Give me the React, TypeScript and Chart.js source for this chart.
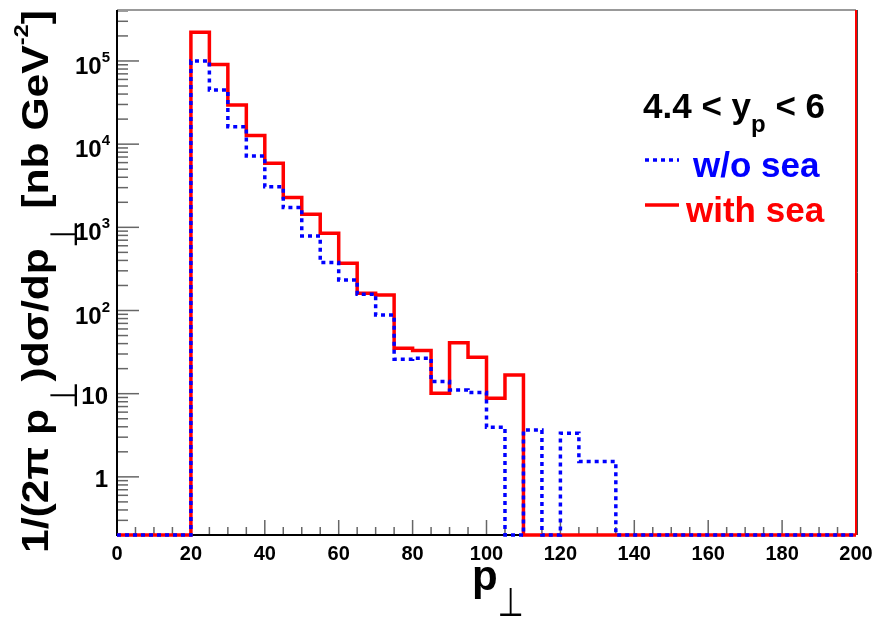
import React, { useEffect, useRef } from "react";
import { Chart, registerables } from "chart.js";

Chart.register(...registerables);

// ---- data ----
const binEdges = [
  0, 5, 10, 15, 20, 25, 30, 35, 40, 45, 50, 55, 60, 65, 70, 75, 80, 85, 90, 95,
  100, 105, 110, 115, 120, 125, 130, 135, 140, 145, 150, 155, 160, 165, 170, 175, 180, 185, 190, 195, 200,
];
// with sea (red, solid)
const withSea = [
  0, 0, 0, 0, 2.21e5, 9.1e4, 2.96e4, 1.27e4, 5.9e3, 2.28e3, 1.44e3, 849, 370, 161, 154, 35.2, 33, 10.1, 41, 27.5,
  8.8, 16.8, 0, 0, 0, 0, 0, 0, 0, 0, 0, 0, 0, 0, 0, 0, 0, 0, 0, 0,
];
// w/o sea (blue, dotted)
const withoutSea = [
  0, 0, 0, 0, 1.0e5, 4.48e4, 1.62e4, 7.2e3, 3.08e3, 1.73e3, 788, 377, 233, 157, 88.5, 26, 26.7, 14, 11.1, 10.3,
  3.95, 0, 3.67, 0, 3.35, 1.53, 1.53, 0, 0, 0, 0, 0, 0, 0, 0, 0, 0, 0, 0, 0,
];
const xTickLabels = [0, 20, 40, 60, 80, 100, 120, 140, 160, 180, 200];
const yTickLabels = [1, 10, 100, 1000, 10000, 100000];
const xMin = 0;
const xMax = 200;
const yMin = 0.2;
const yMax = 4.1e5;

const BOLD = "'Liberation Sans', Arial, Helvetica, sans-serif";
const SYM = "'DejaVu Sans', sans-serif";

type Seg = { t: string; font: string; dy?: number; sx?: number; color?: string };

function segsWidth(ctx: CanvasRenderingContext2D, segs: Seg[]) {
  let w = 0;
  for (const s of segs) {
    ctx.font = s.font;
    w += ctx.measureText(s.t).width * (s.sx ?? 1);
  }
  return w;
}

function drawSegs(ctx: CanvasRenderingContext2D, segs: Seg[], x: number, y: number, color: string) {
  let cx = x;
  for (const s of segs) {
    ctx.save();
    ctx.font = s.font;
    ctx.fillStyle = s.color ?? color;
    ctx.textAlign = "left";
    ctx.textBaseline = "alphabetic";
    const w = ctx.measureText(s.t).width * (s.sx ?? 1);
    ctx.translate(cx, y + (s.dy ?? 0));
    ctx.scale(s.sx ?? 1, 1);
    ctx.fillText(s.t, 0, 0);
    ctx.restore();
    cx += w;
  }
}

function toPoints(vals: number[]) {
  const pts = vals.map((v, i) => ({ x: binEdges[i], y: Math.max(v, yMin) }));
  pts.push({ x: binEdges[vals.length], y: Math.max(vals[vals.length - 1], yMin) });
  return pts;
}

const framePlugin = {
  id: "rootFrame",
  beforeDatasetsDraw(chart: any) {
    const ctx: CanvasRenderingContext2D = chart.ctx;
    const { left, right, top, bottom } = chart.chartArea;
    const xs = chart.scales.x;
    const ys = chart.scales.y;
    ctx.save();
    // ticks
    ctx.strokeStyle = "#666";
    ctx.lineWidth = 1.5;
    for (let v = xMin; v <= xMax; v += 5) {
      const px = xs.getPixelForValue(v);
      const len = v % 20 === 0 ? 15 : 8;
      ctx.beginPath();
      ctx.moveTo(px, bottom);
      ctx.lineTo(px, bottom - len);
      ctx.stroke();
    }
    for (let e = -1; e <= 6; e++) {
      for (let m = 1; m <= 9; m++) {
        const v = m * Math.pow(10, e);
        if (v < yMin || v > yMax) continue;
        const py = ys.getPixelForValue(v);
        const len = m === 1 ? 22 : 11;
        ctx.beginPath();
        ctx.moveTo(left, py);
        ctx.lineTo(left + len, py);
        ctx.stroke();
      }
    }
    // frame
    ctx.strokeStyle = "#999";
    ctx.lineWidth = 2;
    ctx.beginPath();
    ctx.moveTo(left, top);
    ctx.lineTo(right, top);
    ctx.stroke();
    ctx.strokeStyle = "#444";
    ctx.lineWidth = 1;
    ctx.beginPath();
    ctx.moveTo(right + 1.5, top);
    ctx.lineTo(right + 1.5, bottom);
    ctx.stroke();
    ctx.strokeStyle = "#ff0000";
    ctx.lineWidth = 2;
    ctx.beginPath();
    ctx.moveTo(right, top);
    ctx.lineTo(right, bottom);
    ctx.stroke();
    ctx.strokeStyle = "#000";
    ctx.lineWidth = 2;
    ctx.beginPath();
    ctx.moveTo(left, top);
    ctx.lineTo(left, bottom);
    ctx.lineTo(right, bottom);
    ctx.stroke();
    ctx.restore();
  },
  afterDraw(chart: any) {
    const ctx: CanvasRenderingContext2D = chart.ctx;
    const xs = chart.scales.x;
    const ys = chart.scales.y;
    ctx.save();
    // x tick labels
    ctx.fillStyle = "#000";
    ctx.font = `bold 20px ${BOLD}`;
    ctx.textAlign = "center";
    ctx.textBaseline = "alphabetic";
    for (const v of xTickLabels) {
      ctx.fillText(String(v), xs.getPixelForValue(v), 560);
    }
    // y tick labels
    for (const v of yTickLabels) {
      const py = ys.getPixelForValue(v);
      const e = Math.round(Math.log10(v));
      if (e <= 1) {
        ctx.font = `bold 24px ${BOLD}`;
        ctx.textAlign = "right";
        ctx.fillText(String(v), 108, py + 10);
      } else {
        const segs: Seg[] = [
          { t: "10", font: `bold 24px ${BOLD}` },
          { t: String(e), font: `bold 15px ${BOLD}`, dy: -12 },
        ];
        const w = segsWidth(ctx, segs);
        drawSegs(ctx, segs, 110 - w, py + 13, "#000");
      }
    }
    // y axis title (rotated)
    const ySegs: Seg[] = [
      { t: "1/(2π p", font: `bold 36px ${BOLD}` },
      { t: "⊥", font: `38px ${SYM}`, dy: 29, sx: 0.7 },
      { t: ")dσ/dp", font: `bold 36px ${BOLD}` },
      { t: "⊥", font: `38px ${SYM}`, dy: 29, sx: 0.7 },
      { t: " [nb GeV", font: `bold 36px ${BOLD}` },
      { t: "-2", font: `bold 20px ${BOLD}`, dy: -20 },
      { t: "]", font: `bold 36px ${BOLD}` },
    ];
    const yw = segsWidth(ctx, ySegs);
    const span = 543;
    ctx.save();
    ctx.translate(48, 553);
    ctx.rotate(-Math.PI / 2);
    ctx.scale(span / yw, 1);
    drawSegs(ctx, ySegs, 0, 0, "#000");
    ctx.restore();
    // x axis title
    drawSegs(
      ctx,
      [
        { t: "p", font: `bold 42px ${BOLD}` },
        { t: "⊥", font: `40px ${SYM}`, dy: 26, sx: 0.75 },
      ],
      472,
      590,
      "#000"
    );
    // legend / annotation
    drawSegs(
      ctx,
      [
        { t: "4.4 < y", font: `bold 35px ${BOLD}` },
        { t: "p", font: `bold 24px ${BOLD}`, dy: 14 },
        { t: " < 6", font: `bold 35px ${BOLD}` },
      ],
      643,
      118,
      "#000"
    );
    ctx.lineWidth = 3.5;
    ctx.lineCap = "butt";
    ctx.strokeStyle = "#0000ff";
    ctx.setLineDash([4, 4]);
    ctx.beginPath();
    ctx.moveTo(645, 160);
    ctx.lineTo(679, 160);
    ctx.stroke();
    ctx.setLineDash([]);
    ctx.strokeStyle = "#ff0000";
    ctx.beginPath();
    ctx.moveTo(645, 205);
    ctx.lineTo(679, 205);
    ctx.stroke();
    drawSegs(ctx, [{ t: "w/o sea", font: `bold 35px ${BOLD}` }], 693, 177, "#0000ff");
    drawSegs(ctx, [{ t: "with sea", font: `bold 35px ${BOLD}` }], 686, 222, "#ff0000");
    ctx.restore();
  },
};

export default function App() {
  const ref = useRef<HTMLCanvasElement | null>(null);
  useEffect(() => {
    if (!ref.current) return;
    const chart = new Chart(ref.current, {
      type: "line",
      data: {
        datasets: [
          {
            label: "w/o sea",
            data: toPoints(withoutSea),
            borderColor: "#0000ff",
            borderWidth: 3.5,
            borderDash: [4, 4],
            stepped: "before",
            pointRadius: 0,
            fill: false,
            clip: 6,
            borderJoinStyle: "miter",
          },
          {
            label: "with sea",
            data: toPoints(withSea),
            borderColor: "#ff0000",
            borderWidth: 3.5,
            stepped: "before",
            pointRadius: 0,
            fill: false,
            clip: 6,
            borderJoinStyle: "miter",
          },
        ],
      } as any,
      options: {
        animation: false,
        responsive: false,
        maintainAspectRatio: false,
        devicePixelRatio: 1,
        events: [],
        layout: { padding: { left: 117, right: 34, top: 10, bottom: 82 } },
        plugins: { legend: { display: false }, tooltip: { enabled: false } },
        scales: {
          x: { type: "linear", min: xMin, max: xMax, display: false },
          y: { type: "logarithmic", min: yMin, max: yMax, display: false },
        },
      } as any,
      plugins: [framePlugin],
    });
    return () => chart.destroy();
  }, []);
  return (
    <div style={{ position: "absolute", left: 0, top: 0, width: 890, height: 617, background: "#fff" }}>
      <canvas ref={ref} width={890} height={617} style={{ width: 890, height: 617 }} />
    </div>
  );
}
